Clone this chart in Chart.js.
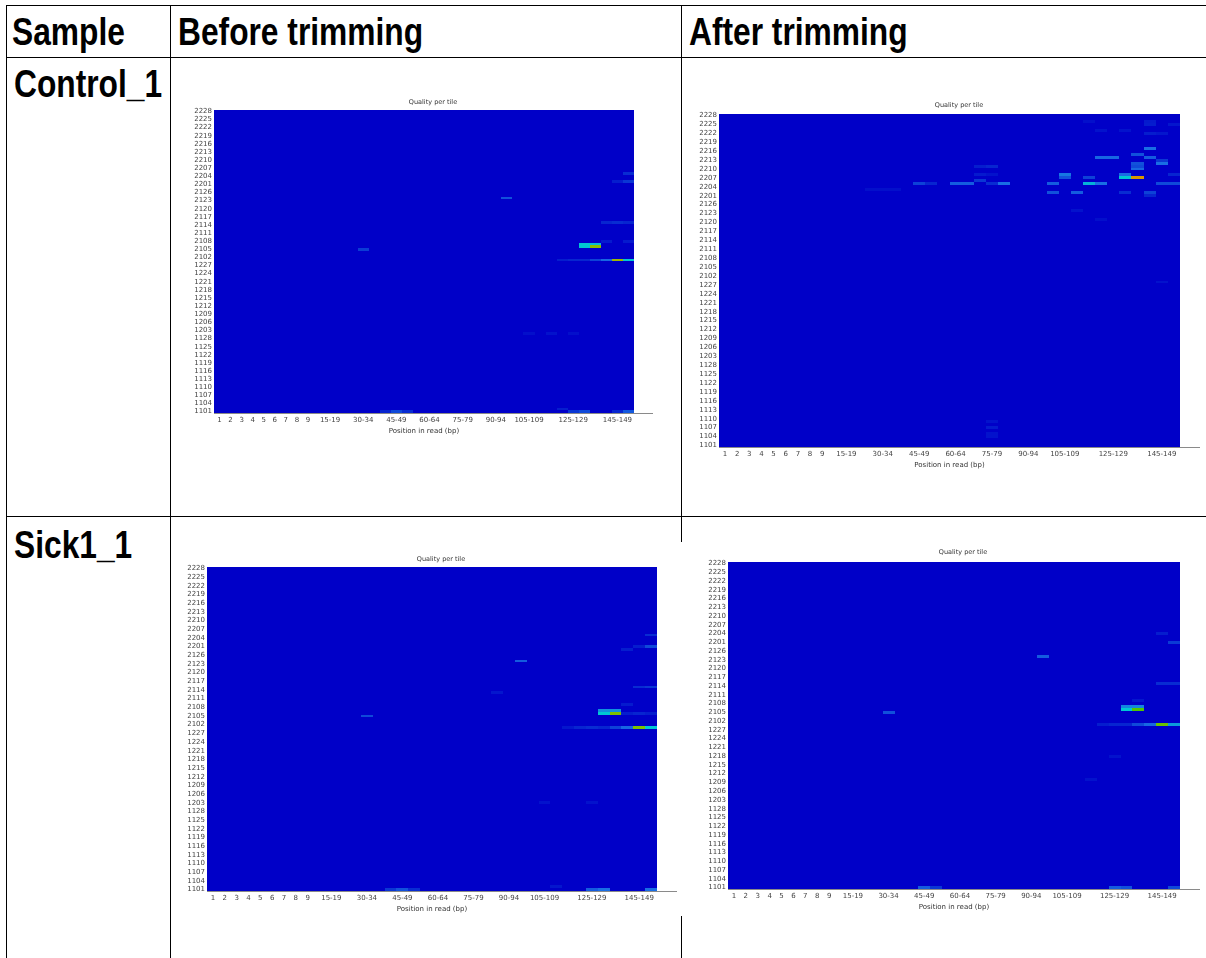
<!DOCTYPE html>
<html>
<head>
<meta charset="utf-8">
<script src="https://cdn.jsdelivr.net/npm/chart.js@4.4.1/dist/chart.umd.min.js"></script>
<style>
    body { margin: 0; background: #fff; width: 1206px; height: 958px; overflow: hidden; position: relative; }
    .hl, .vl { position: absolute; background: #000; }
    .hl { height: 1px; }
    .vl { width: 1px; }
    .head { position: absolute; font-family: 'Liberation Sans', Arial, sans-serif; font-weight: bold; font-size: 38px; line-height: 1;
            transform-origin: 0 0; transform: scaleX(0.835); white-space: nowrap; color: #000; }
    canvas { position: absolute; }
</style>
</head>
<body>
<div class="hl" style="left:6px; top:5px; width:1200px"></div>
<div class="hl" style="left:6px; top:57px; width:1200px"></div>
<div class="hl" style="left:6px; top:516px; width:1200px"></div>
<div class="vl" style="left:6px; top:5px; height:953px"></div>
<div class="vl" style="left:170px; top:5px; height:953px"></div>
<div class="vl" style="left:681px; top:5px; height:537px"></div>
<div class="vl" style="left:681px; top:916px; height:42px"></div>

<div class="head" style="left:12px; top:13px">Sample</div>
<div class="head" style="left:178px; top:13px">Before trimming</div>
<div class="head" style="left:689px; top:13px">After trimming</div>
<div class="head" style="left:14px; top:65px">Control_1</div>
<div class="head" style="left:14px; top:526px">Sick1_1</div>

<script>
// flowcell tiles, top of the plot first
const tiles = [
    '2228','2227','2226','2225','2224','2223','2222','2221','2220','2219','2218','2217','2216','2215','2214','2213','2212','2211','2210','2209','2208','2207','2206','2205','2204','2203','2202','2201',
    '2128','2127','2126','2125','2124','2123','2122','2121','2120','2119','2118','2117','2116','2115','2114','2113','2112','2111','2110','2109','2108','2107','2106','2105','2104','2103','2102','2101',
    '1228','1227','1226','1225','1224','1223','1222','1221','1220','1219','1218','1217','1216','1215','1214','1213','1212','1211','1210','1209','1208','1207','1206','1205','1204','1203','1202','1201',
    '1128','1127','1126','1125','1124','1123','1122','1121','1120','1119','1118','1117','1116','1115','1114','1113','1112','1111','1110','1109','1108','1107','1106','1105','1104','1103','1102','1101'
];
const yTickLabels = ['2228','2225','2222','2219','2216','2213','2210','2207','2204','2201','2126','2123','2120','2117','2114','2111','2108','2105','2102',
    '1227','1224','1221','1218','1215','1212','1209','1206','1203','1128','1125','1122','1119','1116','1113','1110','1107','1104','1101'];

const positions = ['1','2','3','4','5','6','7','8','9','10-14','15-19','20-24','25-29','30-34','35-39','40-44','45-49','50-54','55-59',
    '60-64','65-69','70-74','75-79','80-84','85-89','90-94','95-99','100-104','105-109','110-114','115-119','120-124','125-129',
    '130-134','135-139','140-144','145-149','150-151'];
const xTickLabels = ['1','2','3','4','5','6','7','8','9','15-19','30-34','45-49','60-64','75-79','90-94','105-109','125-129','145-149'];

// cells that differ from the cold background: [tile, position, level 0..1]
const ctrlBeforeHot = [
    ['2124','95-99',0.22], ['2105','30-34',0.16],
    ['2107','130-134',0.5], ['2107','135-139',0.48], ['2106','130-134',0.5], ['2106','135-139',0.73],
    ['2101','120-124',0.08], ['2101','125-129',0.1], ['2101','130-134',0.1], ['2101','135-139',0.18],
    ['2101','140-144',0.28], ['2101','145-149',0.76], ['2101','150-151',0.5],
    ['2205','150-151',0.12], ['2202','145-149',0.08], ['2202','150-151',0.15],
    ['2115','140-144',0.1], ['2115','145-149',0.12], ['2115','150-151',0.1],
    ['2108','140-144',0.07], ['2108','150-151',0.07],
    ['1202','105-109',0.04], ['1202','115-119',0.05], ['1202','125-129',0.04], ['1102','120-124',0.08],
    ['1101','40-44',0.1], ['1101','45-49',0.2], ['1101','50-54',0.12], ['1101','125-129',0.15],
    ['1101','130-134',0.2], ['1101','145-149',0.1], ['1101','150-151',0.24]
];
const ctrlAfterHot = [
    ['2205','45-49',0.18], ['2205','50-54',0.1], ['2205','60-64',0.25], ['2205','65-69',0.25], ['2206','70-74',0.15],
    ['2205','75-79',0.12], ['2205','80-84',0.3], ['2211','70-74',0.08], ['2211','75-79',0.1], ['2208','70-74',0.07],
    ['2208','75-79',0.05], ['2203','25-29',0.04], ['2203','30-34',0.04], ['2203','35-39',0.04],
    ['2205','100-104',0.25], ['2208','105-109',0.32], ['2207','105-109',0.22], ['2202','100-104',0.22],
    ['2202','110-114',0.25], ['2205','115-119',0.45], ['2207','115-119',0.18], ['2205','120-124',0.3],
    ['2214','120-124',0.28], ['2214','125-129',0.28], ['2208','130-134',0.3], ['2207','130-134',0.5],
    ['2207','135-139',0.86], ['2215','135-139',0.22], ['2212','135-139',0.22], ['2211','135-139',0.2],
    ['2210','135-139',0.28], ['2202','130-134',0.12], ['2217','140-144',0.3], ['2214','140-144',0.25],
    ['2202','140-144',0.18], ['2201','140-144',0.1], ['2212','145-149',0.3], ['2213','145-149',0.15],
    ['2205','145-149',0.2], ['2205','150-151',0.2], ['2208','150-151',0.1],
    ['2226','140-144',0.07], ['2225','140-144',0.08], ['2222','140-144',0.08], ['2222','145-149',0.06],
    ['2225','150-151',0.06], ['2223','130-134',0.05], ['2223','120-124',0.05], ['2226','115-119',0.04],
    ['2124','110-114',0.05], ['2121','120-124',0.04],
    ['1109','75-79',0.05], ['1107','75-79',0.07], ['1105','75-79',0.05], ['1104','75-79',0.05], ['1228','145-149',0.05]
];
const sickBeforeHot = [
    ['2105','30-34',0.2], ['2124','95-99',0.25], ['2113','85-89',0.06],
    ['2107','130-134',0.38], ['2107','135-139',0.38], ['2106','130-134',0.5], ['2106','135-139',0.72],
    ['2101','115-119',0.06], ['2101','120-124',0.1], ['2101','125-129',0.12], ['2101','130-134',0.1],
    ['2101','135-139',0.18], ['2101','140-144',0.28], ['2101','145-149',0.72], ['2101','150-151',0.5],
    ['2106','140-144',0.08], ['2106','145-149',0.1], ['2106','150-151',0.08],
    ['2205','150-151',0.12], ['2201','150-151',0.2], ['2201','145-149',0.08],
    ['2115','145-149',0.12], ['2115','150-151',0.15], ['2128','140-144',0.08], ['2109','140-144',0.07],
    ['1101','40-44',0.15], ['1101','45-49',0.22], ['1101','50-54',0.12], ['1101','125-129',0.25],
    ['1101','130-134',0.3], ['1101','150-151',0.3], ['1102','110-114',0.06],
    ['1203','105-109',0.05], ['1203','125-129',0.05]
];
const sickAfterHot = [
    ['2105','30-34',0.22], ['2124','95-99',0.25],
    ['2107','130-134',0.35], ['2107','135-139',0.35], ['2106','130-134',0.5], ['2106','135-139',0.68],
    ['2101','120-124',0.08], ['2101','125-129',0.1], ['2101','130-134',0.1], ['2101','135-139',0.2],
    ['2101','140-144',0.28], ['2101','145-149',0.7], ['2101','150-151',0.4],
    ['2201','150-151',0.16], ['2204','145-149',0.08], ['2115','145-149',0.12], ['2115','150-151',0.12],
    ['2109','135-139',0.06],
    ['1101','45-49',0.25], ['1101','50-54',0.15], ['1101','125-129',0.25], ['1101','130-134',0.22],
    ['1101','150-151',0.2], ['1210','115-119',0.05], ['1218','125-129',0.05]
];

// hot/cold colour ramp
const stops = [
    [0, [0, 0, 200]], [0.15, [10, 55, 212]], [0.3, [25, 110, 228]], [0.5, [0, 200, 210]],
    [0.66, [60, 200, 0]], [0.74, [150, 190, 0]], [0.86, [215, 150, 0]], [1, [210, 0, 0]]
];
const heatColor = (v) => {
    for (let i = 1; i < stops.length; i++) {
        if (v <= stops[i][0]) {
            const [a, ca] = stops[i - 1], [b, cb] = stops[i];
            const t = (v - a) / (b - a);
            return `rgb(${ca.map((c, k) => Math.round(c + (cb[k] - c) * t)).join(',')})`;
        }
    }
    return 'rgb(210,0,0)';
};

const buildCells = (hot) => {
    const cells = [];
    tiles.forEach(t => positions.forEach(p => cells.push({ x: p, y: t, v: 0 })));
    hot.forEach(([t, p, v]) => {
        cells[tiles.indexOf(t) * positions.length + positions.indexOf(p)].v = v;
    });
    return cells;
};

const heatPlugin = {
    id: 'heat',
    beforeDatasetsDraw(chart) {
        const { ctx, chartArea: a, scales: { x, y } } = chart;
        const cw = Math.abs(x.getPixelForValue(1) - x.getPixelForValue(0));
        const rh = Math.abs(y.getPixelForValue(1) - y.getPixelForValue(0));
        const cells = chart.data.datasets[0].data;
        const meta = chart.getDatasetMeta(0);
        ctx.save();
        ctx.beginPath();
        ctx.rect(a.left, a.top, a.right - a.left, a.bottom - a.top);
        ctx.clip();
        meta.data.forEach((pt, i) => {
            // snap cell edges to whole pixels so neighbours meet without seams
            const x0 = Math.round(pt.x - cw / 2), x1 = Math.round(pt.x + cw / 2);
            const y0 = Math.round(pt.y - rh / 2), y1 = Math.round(pt.y + rh / 2);
            ctx.fillStyle = heatColor(cells[i].v);
            ctx.fillRect(x0, y0, x1 - x0, y1 - y0);
        });
        ctx.restore();
    },
    afterDraw(chart, args, opts) {
        const { ctx, chartArea: a } = chart;
        ctx.save();
        ctx.strokeStyle = '#8a8a8a';
        ctx.lineWidth = 1;
        ctx.beginPath();
        ctx.moveTo(a.left, Math.round(a.bottom) + 0.5);
        ctx.lineTo(a.left + opts.axisLen, Math.round(a.bottom) + 0.5);
        ctx.stroke();
        ctx.fillStyle = '#333';
        ctx.font = '6.5px "DejaVu Sans"';
        ctx.textAlign = 'center';
        ctx.textBaseline = 'middle';
        ctx.fillText('Quality per tile', opts.titleX, opts.titleY);
        ctx.restore();
    }
};

// where each picture sits on the page: plot box, end of the x axis line, title centre
const panels = [
    { hot: ctrlBeforeHot, L: 214, T: 110, R: 634, B: 413, ext: 653, tx: 433, ty: 102 },
    { hot: ctrlAfterHot, L: 719, T: 114, R: 1180, B: 447, ext: 1200, tx: 959, ty: 105 },
    { hot: sickBeforeHot, L: 207, T: 567, R: 657, B: 891, ext: 677, tx: 441, ty: 559 },
    { hot: sickAfterHot, L: 728, T: 562, R: 1180, B: 889, ext: 1200, tx: 963, ty: 552 }
];

const tickFont = { family: 'DejaVu Sans', size: 7 };

panels.forEach(p => {
    const left = p.L - 40, top = p.T - 20;
    const canvas = document.createElement('canvas');
    canvas.width = p.ext + 4 - left;
    canvas.height = p.B - p.T + 52;
    canvas.style.left = left + 'px';
    canvas.style.top = top + 'px';
    document.body.appendChild(canvas);

    new Chart(canvas, {
        type: 'scatter',
        data: {
            datasets: [{ data: buildCells(p.hot), pointRadius: 0, pointHoverRadius: 0 }]
        },
        options: {
            responsive: false,
            animation: false,
            devicePixelRatio: 1,
            events: [],
            layout: { padding: { top: 20, right: p.ext + 4 - p.R, left: 0, bottom: 0 } },
            plugins: {
                legend: { display: false },
                tooltip: { enabled: false },
                heat: { axisLen: p.ext - p.L, titleX: p.tx - left, titleY: p.ty - top }
            },
            scales: {
                x: {
                    type: 'category',
                    labels: positions,
                    offset: true,
                    grid: { display: false, drawTicks: false },
                    border: { display: false },
                    ticks: {
                        autoSkip: false, maxRotation: 0, padding: 3, color: '#444', font: tickFont,
                        callback: (v) => xTickLabels.includes(positions[v]) ? positions[v] : ''
                    },
                    title: { display: true, text: 'Position in read (bp)', color: '#333', font: tickFont, padding: { top: 0, bottom: 10 } },
                    afterFit: (s) => { s.height = 32; }
                },
                y: {
                    type: 'category',
                    labels: tiles,
                    offset: true,
                    grid: { display: false, drawTicks: false },
                    border: { display: false },
                    ticks: {
                        autoSkip: false, padding: 2, color: '#444', font: tickFont,
                        callback: (v) => yTickLabels.includes(tiles[v]) ? tiles[v] : ''
                    },
                    afterFit: (s) => { s.width = 40; }
                }
            }
        },
        plugins: [heatPlugin]
    });
});
</script>
</body>
</html>
